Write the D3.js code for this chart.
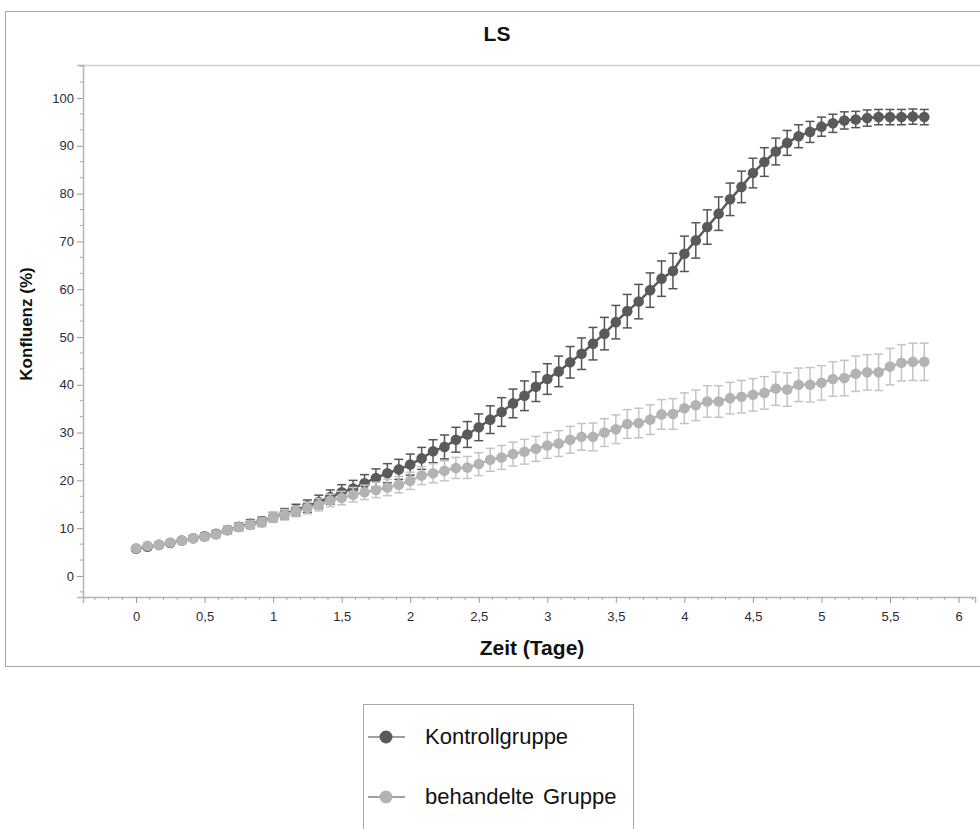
<!DOCTYPE html>
<html>
<head>
<meta charset="utf-8">
<script src="https://cdn.jsdelivr.net/npm/d3@7"></script>
<style>
  body { margin: 0; background: #fff; }
  svg { display: block; font-family: "Liberation Sans", Arial, sans-serif; }
</style>
</head>
<body>
<svg id="chart" width="980" height="829"></svg>
<script>
// ---- data ----
const times = d3.range(70).map(i => i / 12); // every 2 hours, in days
const seriesNames = ["Kontrollgruppe", "behandelte Gruppe"];
const controlMean = [5.7,6.1,6.5,6.9,7.4,7.9,8.3,8.8,9.6,10.3,10.9,11.4,12.3,13.0,13.8,14.6,15.5,16.5,17.5,18.3,19.4,20.5,21.5,22.3,23.3,24.6,26.1,27.0,28.5,29.6,31.1,32.7,34.3,36.1,37.7,39.6,41.2,42.8,44.7,46.5,48.6,50.7,53.1,55.4,57.4,59.8,62.2,63.8,67.4,70.2,73.0,75.8,78.8,81.4,84.3,86.6,88.8,90.6,92.0,92.9,94.0,94.7,95.3,95.5,95.8,96.0,96.0,96.0,96.1,96.0];
const controlErr = [0.5,0.5,0.5,0.6,0.6,0.6,0.7,0.7,0.8,0.8,0.9,0.9,1.0,1.1,1.2,1.3,1.4,1.5,1.6,1.7,1.8,1.9,2.0,2.1,2.2,2.3,2.4,2.5,2.6,2.7,2.8,2.9,3.0,3.0,3.1,3.1,3.2,3.2,3.3,3.3,3.4,3.4,3.5,3.5,3.6,3.6,3.7,3.7,3.7,3.7,3.6,3.5,3.4,3.3,3.1,3.0,2.8,2.6,2.4,2.2,2.0,1.9,1.8,1.7,1.7,1.6,1.6,1.6,1.6,1.6];
const treatedMean = [5.8,6.3,6.5,7.0,7.4,7.9,8.2,8.7,9.6,10.2,10.7,11.2,12.2,12.8,13.5,14.2,14.9,15.8,16.3,17.0,17.5,18.0,18.5,19.1,19.9,21.0,21.5,22.0,22.6,22.7,23.4,24.3,24.8,25.5,26.0,26.6,27.3,27.7,28.5,29.1,29.1,30.0,30.7,31.8,32.0,32.7,33.8,33.9,35.1,35.7,36.5,36.5,37.2,37.5,37.9,38.3,39.2,39.0,40.0,40.0,40.4,41.2,41.4,42.3,42.6,42.6,43.8,44.6,44.8,44.8];
const treatedErr = [0.5,0.5,0.6,0.6,0.6,0.7,0.7,0.7,0.8,0.8,0.9,0.9,1.0,1.1,1.1,1.2,1.3,1.3,1.4,1.5,1.5,1.6,1.7,1.7,1.8,1.9,2.0,2.1,2.2,2.3,2.4,2.4,2.5,2.5,2.6,2.6,2.7,2.7,2.8,2.8,2.9,2.9,3.0,3.0,3.1,3.1,3.1,3.2,3.2,3.2,3.3,3.3,3.3,3.4,3.4,3.4,3.5,3.5,3.5,3.6,3.6,3.6,3.7,3.7,3.7,3.8,3.8,3.8,3.9,3.9];
const xTickValues = [0,0.5,1,1.5,2,2.5,3,3.5,4,4.5,5,5.5,6];
const xTickLabels = ["0","0,5","1","1,5","2","2,5","3","3,5","4","4,5","5","5,5","6"];
const yTickValues = [0,10,20,30,40,50,60,70,80,90,100];
const yTickLabels = ["0","10","20","30","40","50","60","70","80","90","100"];
const titleText = "LS";
const xTitle = "Zeit (Tage)";
const yTitle = "Konfluenz (%)";

// ---- layout ----
const svg = d3.select("#chart");
const colors = { dark: "#5a5a5a", darkErr: "#555555", light: "#b3b3b3", lightErr: "#c4c4c4" };
const x = d3.scaleLinear().domain([-0.387, 6.12]).range([83, 975]);
const y = d3.scaleLinear().domain([-4.4, 106.9]).range([597, 65]);

// outer frame
svg.append("rect").attr("x", 5.5).attr("y", 11.5).attr("width", 990).attr("height", 655)
  .attr("fill", "none").attr("stroke", "#a6a6a6").attr("stroke-width", 1);

// title
svg.append("text").attr("x", 497).attr("y", 41).attr("text-anchor", "middle")
  .attr("font-size", 21).attr("font-weight", "bold").attr("fill", "#111").text(titleText);

// plot frame lines
svg.append("line").attr("x1", x.range()[0]).attr("x2", 985).attr("y1", 65.5).attr("y2", 65.5)
  .attr("stroke", "#cfcfcf").attr("stroke-width", 1.5);

// y axis
const yAxis = d3.axisLeft(y).tickValues(yTickValues).tickSize(6).tickPadding(3)
  .tickFormat((d, i) => yTickLabels[i]);
const gy = svg.append("g").attr("transform", `translate(${x.range()[0]},0)`).call(yAxis);
gy.select(".domain").attr("stroke", "#b5b5b5").attr("stroke-width", 1.5);
gy.selectAll(".tick line").attr("stroke", "#9a9a9a");
gy.selectAll(".tick text").attr("font-size", 13).attr("fill", "#2e2a33");
const yMinor = d3.range(-1, 33).map(k => k * 10 / 3).filter(v => Math.abs(v / 10 - Math.round(v / 10)) > 1e-6 && v < 106.9);
svg.append("g").selectAll("line").data(yMinor).join("line")
  .attr("x1", x.range()[0] - 3).attr("x2", x.range()[0]).attr("y1", d => y(d)).attr("y2", d => y(d))
  .attr("stroke", "#a8a8a8");

// x axis
const xAxis = d3.axisBottom(x).tickValues(xTickValues).tickSize(6).tickPadding(9)
  .tickFormat((d, i) => xTickLabels[i]);
const gx = svg.append("g").attr("transform", `translate(0,${y.range()[0]})`).call(xAxis);
gx.select(".domain").attr("stroke", "#b5b5b5").attr("stroke-width", 1.5);
gx.selectAll(".tick line").attr("stroke", "#9a9a9a");
gx.selectAll(".tick text").attr("font-size", 13).attr("fill", "#2e2a33");
const xMinor = d3.range(-3, 62).map(k => k / 10).filter(v => Math.abs(v * 2 - Math.round(v * 2)) > 1e-6);
svg.append("g").selectAll("line").data(xMinor).join("line")
  .attr("x1", d => x(d)).attr("x2", d => x(d)).attr("y1", y.range()[0]).attr("y2", y.range()[0] + 3)
  .attr("stroke", "#a8a8a8");

// axis titles
svg.append("text").attr("x", 532).attr("y", 655).attr("text-anchor", "middle")
  .attr("font-size", 21).attr("font-weight", "bold").attr("fill", "#111").text(xTitle);
svg.append("text").attr("transform", "translate(32,324) rotate(-90)").attr("text-anchor", "middle")
  .attr("font-size", 17).attr("font-weight", "bold").attr("fill", "#111").text(yTitle);

// series
function drawSeries(mean, err, col, errCol) {
  const data = times.map((t, i) => ({ t, v: mean[i], e: err[i] }));
  const g = svg.append("g");
  const cap = 4.5;
  const eb = g.append("g").attr("stroke", errCol).attr("stroke-width", 1.5);
  eb.selectAll("line.v").data(data).join("line").attr("class", "v")
    .attr("x1", d => x(d.t)).attr("x2", d => x(d.t))
    .attr("y1", d => y(d.v - d.e)).attr("y2", d => y(d.v + d.e));
  eb.selectAll("line.t").data(data).join("line").attr("class", "t")
    .attr("x1", d => x(d.t) - cap).attr("x2", d => x(d.t) + cap)
    .attr("y1", d => y(d.v + d.e)).attr("y2", d => y(d.v + d.e));
  eb.selectAll("line.b").data(data).join("line").attr("class", "b")
    .attr("x1", d => x(d.t) - cap).attr("x2", d => x(d.t) + cap)
    .attr("y1", d => y(d.v - d.e)).attr("y2", d => y(d.v - d.e));
  g.append("path").datum(data)
    .attr("d", d3.line().x(d => x(d.t)).y(d => y(d.v)))
    .attr("fill", "none").attr("stroke", col).attr("stroke-width", 2.5);
  g.selectAll("circle").data(data).join("circle")
    .attr("cx", d => x(d.t)).attr("cy", d => y(d.v)).attr("r", 5.3).attr("fill", col);
}
drawSeries(controlMean, controlErr, colors.dark, colors.darkErr);
drawSeries(treatedMean, treatedErr, colors.light, colors.lightErr);

// legend
const lg = svg.append("g");
lg.append("rect").attr("x", 363.5).attr("y", 704.5).attr("width", 270).attr("height", 140)
  .attr("fill", "#fff").attr("stroke", "#a6a6a6");
const legendItems = [
  { name: seriesNames[0], col: colors.dark, ly: 737 },
  { name: seriesNames[1], col: colors.light, ly: 797 }
];
legendItems.forEach(it => {
  lg.append("line").attr("x1", 368).attr("x2", 405).attr("y1", it.ly).attr("y2", it.ly)
    .attr("stroke", "#a0a0a0").attr("stroke-width", 2);
  lg.append("circle").attr("cx", 386).attr("cy", it.ly).attr("r", 6.5).attr("fill", it.col);
  lg.append("text").attr("x", 425).attr("y", it.ly + 7).attr("font-size", 22)
    .attr("word-spacing", 3).attr("fill", "#111").text(it.name);
});
</script>
</body>
</html>
